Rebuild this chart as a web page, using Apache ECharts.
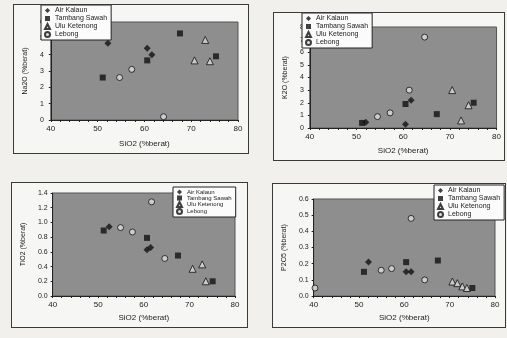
<!DOCTYPE html>
<html>
<head>
<meta charset="utf-8">
<script src="https://cdn.jsdelivr.net/npm/echarts@6/dist/echarts.min.js"></script>
<style>
  body { margin: 0; background: #f1f0ed; width: 507px; height: 338px; position: relative; overflow: hidden; }
  .panel { position: absolute; border: 1px solid #3a3a3a; background: #f6f6f4; box-sizing: border-box; }
</style>
</head>
<body>
<div class="panel" id="p1" style="left:13px;top:4px;width:236px;height:150px"></div>
<div class="panel" id="p2" style="left:273px;top:12px;width:232px;height:149px"></div>
<div class="panel" id="p3" style="left:11px;top:182px;width:237px;height:146px"></div>
<div class="panel" id="p4" style="left:272px;top:183px;width:234px;height:145px"></div>
<script>
// nama lokasi
const seriesNames = ['Air Kalaun', 'Tambang Sawah', 'Ulu Ketenong', 'Lebong']
const xTitle = 'SiO2 (%berat)'

// Na2O vs SiO2
const na2oAirKalaun = [[52.2, 4.7], [60.6, 4.4], [61.6, 4.0]]
const na2oTambangSawah = [[51.1, 2.6], [60.6, 3.65], [67.6, 5.3], [75.3, 3.9]]
const na2oUluKetenong = [[70.7, 3.65], [73.0, 4.9], [74.0, 3.6]]
const na2oLebong = [[54.7, 2.6], [57.3, 3.1], [64.1, 0.2]]

// K2O vs SiO2
const k2oAirKalaun = [[52.0, 0.45], [60.5, 0.3], [61.7, 2.2]]
const k2oTambangSawah = [[51.2, 0.4], [60.5, 1.9], [67.2, 1.1], [75.1, 2.0]]
const k2oUluKetenong = [[70.5, 3.0], [72.4, 0.6], [74.0, 1.8]]
const k2oLebong = [[54.5, 0.9], [57.2, 1.2], [61.3, 3.0], [64.6, 7.2]]

// TiO2 vs SiO2
const tio2AirKalaun = [[52.4, 0.94], [60.7, 0.63], [61.5, 0.66]]
const tio2TambangSawah = [[51.2, 0.89], [60.7, 0.79], [67.5, 0.55], [75.1, 0.2]]
const tio2UluKetenong = [[70.7, 0.37], [72.8, 0.43], [73.6, 0.2]]
const tio2Lebong = [[54.9, 0.93], [57.5, 0.87], [61.7, 1.28], [64.6, 0.51]]

// P2O5 vs SiO2
const p2o5AirKalaun = [[52.1, 0.21], [60.4, 0.15], [61.5, 0.15]]
const p2o5TambangSawah = [[51.1, 0.15], [60.4, 0.21], [67.4, 0.22], [75.0, 0.05]]
const p2o5UluKetenong = [[70.6, 0.09], [71.7, 0.08], [72.8, 0.06], [73.8, 0.05]]
const p2o5Lebong = [[40.3, 0.05], [54.9, 0.16], [57.2, 0.17], [61.5, 0.48], [64.5, 0.1]]

// sumbu
const xMin = 40, xMax = 80, xStep = 10
const na2oMax = 6, na2oStep = 1
const k2oMax = 8, k2oStep = 1
const tio2Max = 1.4, tio2Step = 0.2
const p2o5Max = 0.6, p2o5Step = 0.1

const FONT = '"Liberation Sans", Arial, sans-serif'
const symbols = [
  { symbol: 'diamond', symbolSize: 7, itemStyle: { color: '#111' } },
  { symbol: 'rect', symbolSize: 6, itemStyle: { color: '#111' } },
  { symbol: 'triangle', symbolSize: 7, itemStyle: { color: '#d8d8d8', borderColor: '#111', borderWidth: 1 } },
  { symbol: 'circle', symbolSize: 6, itemStyle: { color: '#dcdcdc', borderColor: '#111', borderWidth: 1 } }
]

function drawPanel(el, cfg) {
  const chart = echarts.init(document.getElementById(el))
  const series = cfg.data.map((d, i) => ({
    type: 'scatter',
    name: seriesNames[i],
    data: d,
    symbol: symbols[i].symbol,
    symbolSize: symbols[i].symbolSize,
    itemStyle: symbols[i].itemStyle
  }))
  chart.setOption({
    animation: false,
    textStyle: { fontFamily: FONT },
    grid: Object.assign({ show: true, backgroundColor: '#8e8e8e', borderColor: '#555', borderWidth: 1 }, cfg.grid),
    legend: Object.assign({
      orient: 'vertical',
      backgroundColor: '#fbfbfb',
      borderColor: '#222',
      borderWidth: 1,
      borderRadius: 0,
      padding: [2, 4, 2, 3],
      itemGap: 1,
      itemWidth: 5,
      itemHeight: 5,
      textStyle: { fontSize: 7, color: '#222', fontFamily: FONT },
      data: seriesNames
    }, cfg.legend),
    xAxis: {
      type: 'value',
      min: xMin,
      max: xMax,
      interval: xStep,
      name: xTitle,
      nameLocation: 'middle',
      nameGap: cfg.xNameGap,
      nameTextStyle: { fontSize: 8, color: '#222' },
      axisLine: { lineStyle: { color: '#222' } },
      axisTick: { show: true, length: 2, lineStyle: { color: '#222' } },
      minorTick: { show: true, splitNumber: 5, length: 2, lineStyle: { color: '#222' } },
      axisLabel: { fontSize: 8, color: '#222', margin: 5 },
      splitLine: { show: false }
    },
    yAxis: {
      type: 'value',
      min: 0,
      max: cfg.yMax,
      interval: cfg.yStep,
      name: cfg.yTitle,
      nameLocation: 'middle',
      nameGap: cfg.yNameGap,
      nameTextStyle: { fontSize: 7, color: '#222' },
      axisLine: { show: true, lineStyle: { color: '#222' } },
      axisTick: { show: true, length: 2, lineStyle: { color: '#222' } },
      axisLabel: {
        fontSize: 7,
        color: '#222',
        margin: cfg.yLabelMargin,
        formatter: v => cfg.yDigits ? v.toFixed(cfg.yDigits) : String(v)
      },
      splitLine: { show: false }
    },
    series: series
  })
}

drawPanel('p1', {
  data: [na2oAirKalaun, na2oTambangSawah, na2oUluKetenong, na2oLebong],
  grid: { left: 28, top: 17, width: 196, height: 100 },
  legend: { left: 27, top: 0 },
  yMax: na2oMax, yStep: na2oStep, yDigits: 0, yLabelMargin: 7,
  yTitle: 'Na2O (%berat)', yNameGap: 18, xNameGap: 20
})
drawPanel('p2', {
  data: [k2oAirKalaun, k2oTambangSawah, k2oUluKetenong, k2oLebong],
  grid: { left: 29, top: 14, width: 195, height: 102 },
  legend: { left: 28, top: 0 },
  yMax: k2oMax, yStep: k2oStep, yDigits: 0, yLabelMargin: 6,
  yTitle: 'K2O (%berat)', yNameGap: 17, xNameGap: 19
})
drawPanel('p3', {
  data: [tio2AirKalaun, tio2TambangSawah, tio2UluKetenong, tio2Lebong],
  grid: { left: 33, top: 10, width: 190, height: 104 },
  legend: { left: 161, top: 4, itemGap: 0, itemHeight: 5, itemWidth: 5, textStyle: { fontSize: 6, color: '#222', fontFamily: FONT } },
  yMax: tio2Max, yStep: tio2Step, yDigits: 1, yLabelMargin: 5,
  yTitle: 'TiO2 (%berat)', yNameGap: 22, xNameGap: 18
})
drawPanel('p4', {
  data: [p2o5AirKalaun, p2o5TambangSawah, p2o5UluKetenong, p2o5Lebong],
  grid: { left: 34, top: 15, width: 188, height: 108 },
  legend: { left: 161, top: 1 },
  yMax: p2o5Max, yStep: p2o5Step, yDigits: 1, yLabelMargin: 5,
  yTitle: 'P2O5 (%berat)', yNameGap: 22, xNameGap: 16
})
</script>
</body>
</html>
